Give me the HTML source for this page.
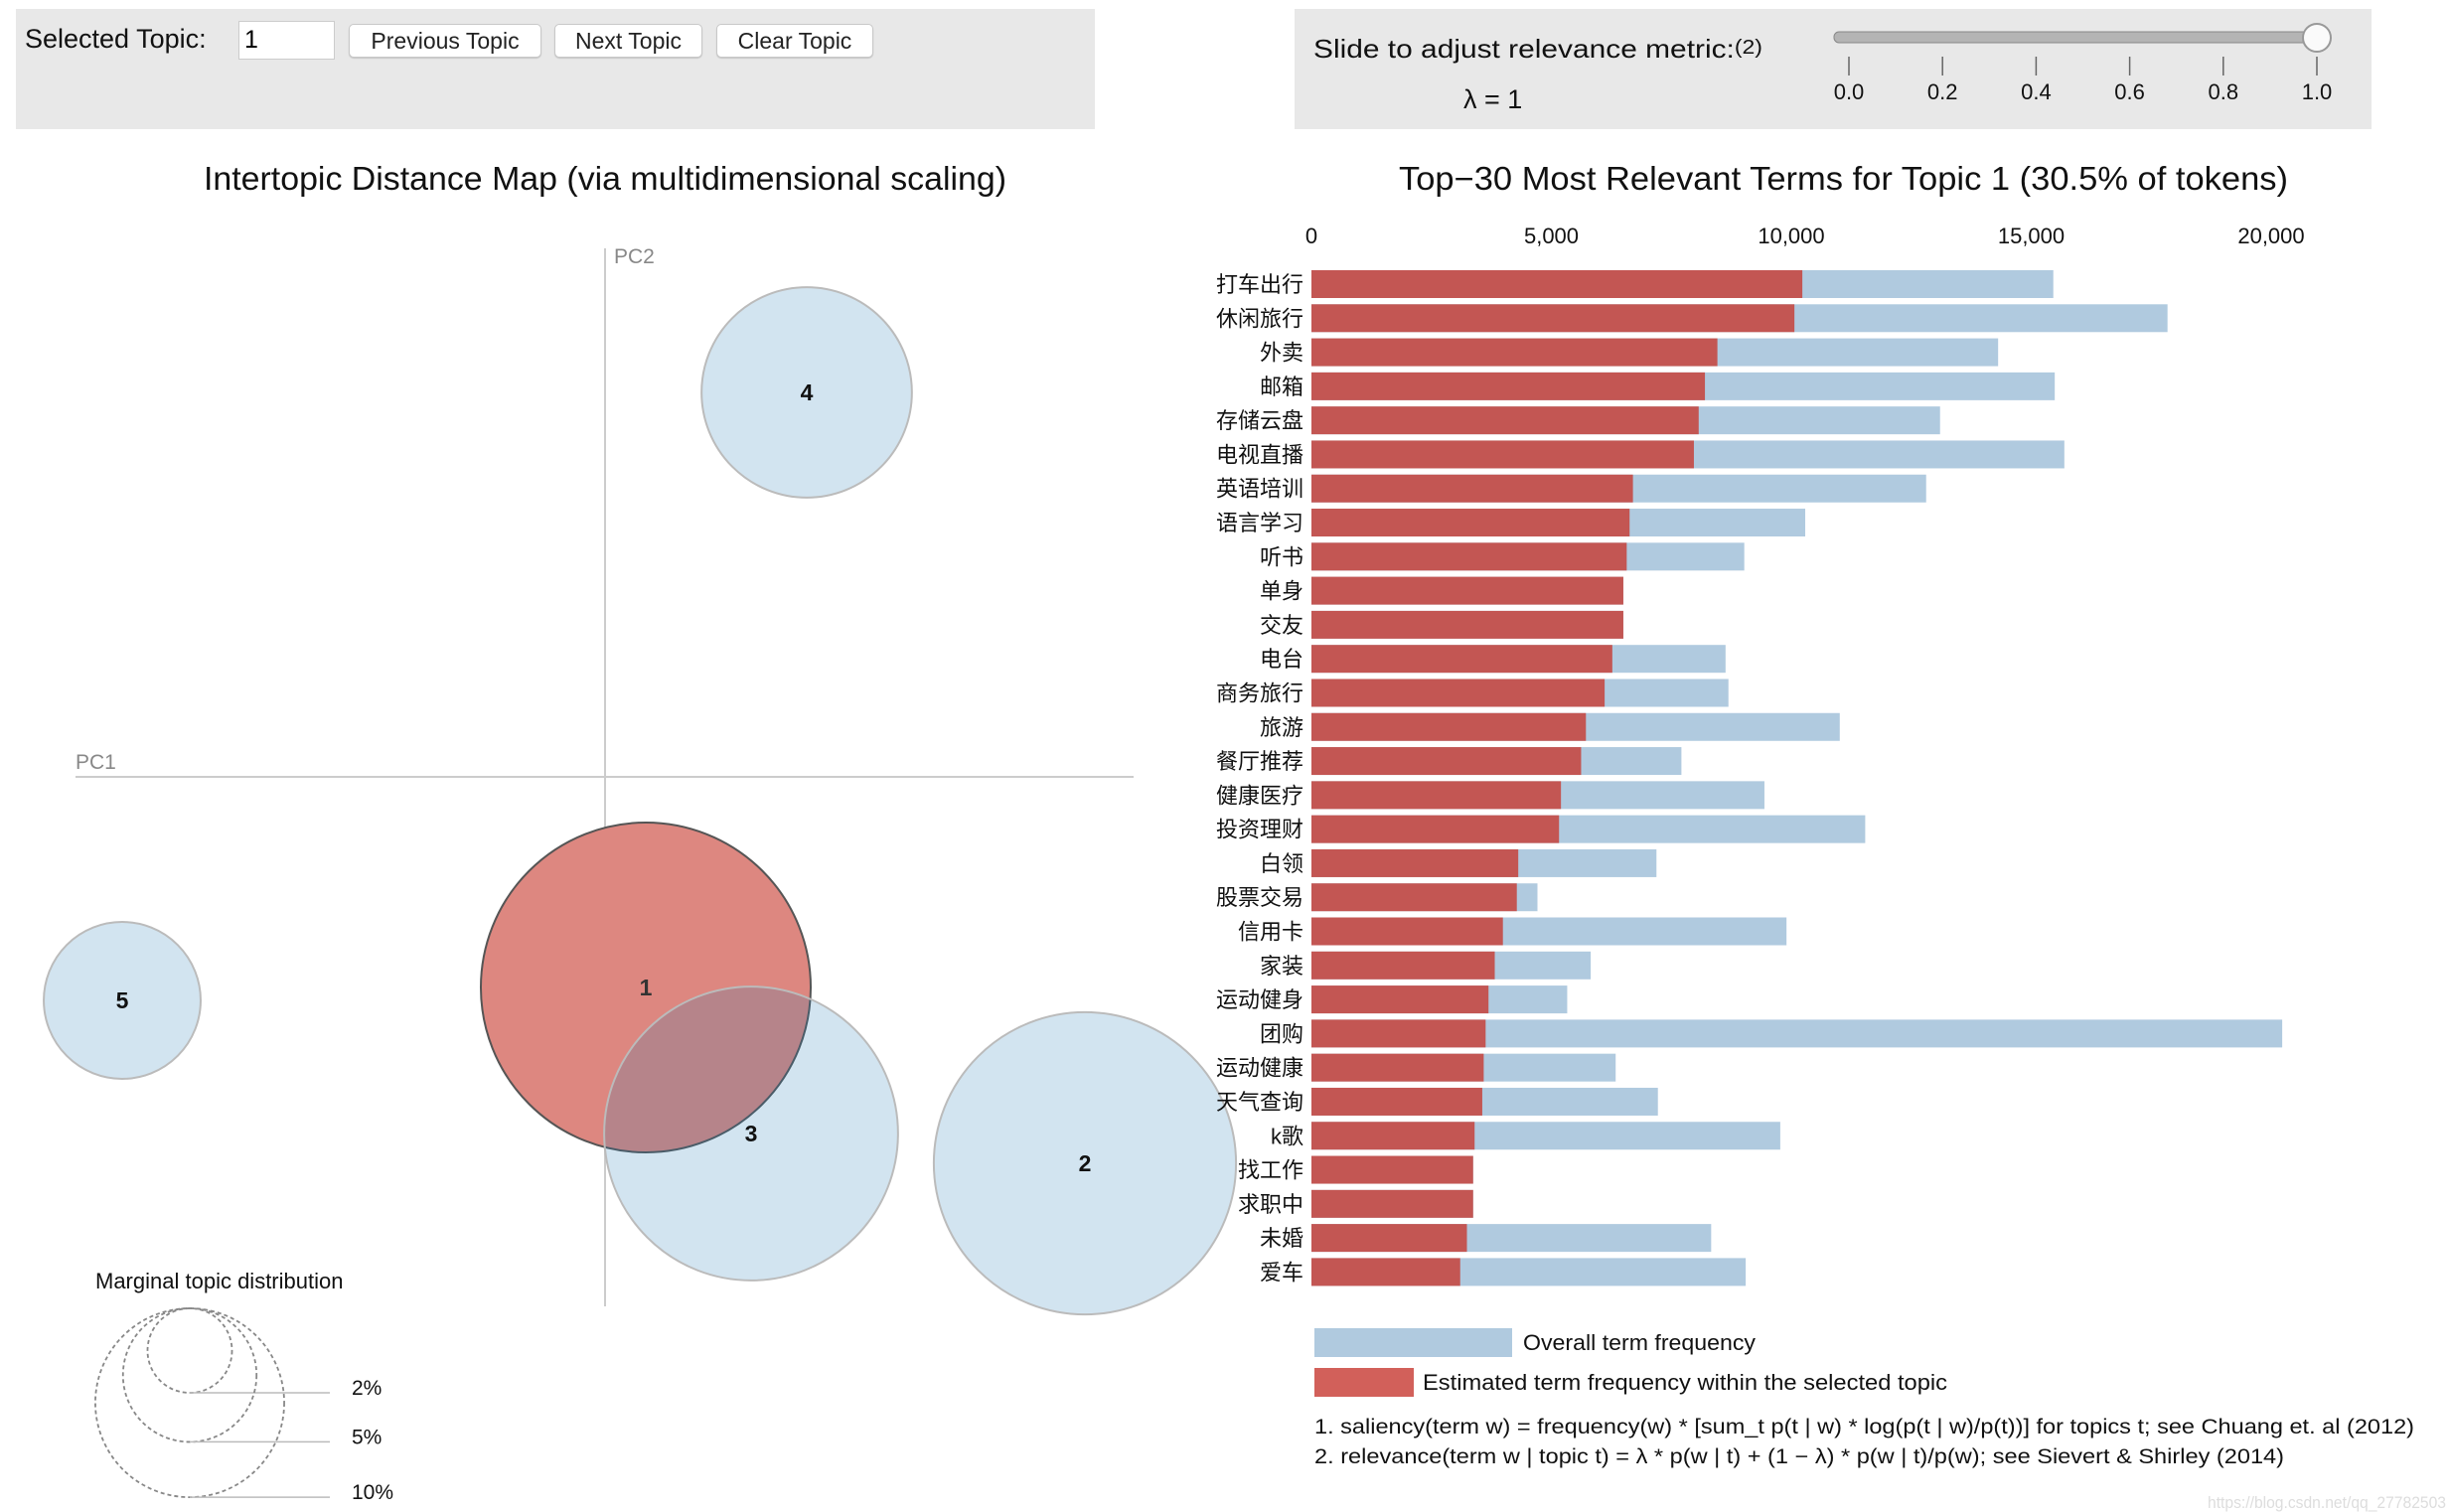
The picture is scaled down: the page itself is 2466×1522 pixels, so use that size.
<!DOCTYPE html>
<html><head><meta charset="utf-8">
<style>
html,body{margin:0;padding:0;background:#fff;}
body{width:2466px;height:1522px;position:relative;overflow:hidden;font-family:"Liberation Sans","Noto Sans CJK SC",sans-serif;}
.panel{position:absolute;background:#e8e8e8;}
.btn{position:absolute;top:24px;height:34px;background:#fff;border:1px solid #c8c8c8;border-radius:5px;font-size:23px;line-height:33px;text-align:center;color:#222;box-shadow:0 1px 1px rgba(0,0,0,.15);box-sizing:border-box;}
svg{position:absolute;left:0;top:0;}
</style></head>
<body>
<div class="panel" style="left:16px;top:9px;width:1086px;height:121px;"></div>
<div style="position:absolute;left:25px;top:24px;font-size:27px;color:#111;">Selected Topic:</div>
<div style="position:absolute;left:240px;top:21px;width:97px;height:39px;background:#fff;border:1px solid #ccc;box-sizing:border-box;font-size:25px;line-height:37px;padding-left:5px;">1</div>
<div class="btn" style="left:351px;width:194px;">Previous Topic</div>
<div class="btn" style="left:558px;width:149px;">Next Topic</div>
<div class="btn" style="left:721px;width:158px;">Clear Topic</div>
<div class="panel" style="left:1303px;top:9px;width:1084px;height:121px;"></div>

<svg id="chart" width="2466" height="1522" xmlns="http://www.w3.org/2000/svg" font-family="Liberation Sans, Noto Sans CJK SC, sans-serif">
  <text x="1322" y="58" font-size="26" fill="#111" textLength="452" lengthAdjust="spacingAndGlyphs">Slide to adjust relevance metric:<tspan font-size="20" dy="-4">(2)</tspan></text>
  <text x="1473" y="109" font-size="27" fill="#111">λ = 1</text>
  <g>
    <rect x="1846" y="32" width="494" height="11" rx="5" fill="#b4b4b4" stroke="#888" stroke-width="1"/>
    <g id="sliderTicks"></g>
    <circle cx="2332" cy="38" r="14" fill="#fafafa" stroke="#999" stroke-width="2"/>
  </g>

  <text x="205" y="191" font-size="33" fill="#111" textLength="808" lengthAdjust="spacingAndGlyphs">Intertopic Distance Map (via multidimensional scaling)</text>
  <text x="1408" y="191" font-size="33" fill="#111" textLength="895" lengthAdjust="spacingAndGlyphs">Top−30 Most Relevant Terms for Topic 1 (30.5% of tokens)</text>

  <line x1="609" y1="250" x2="609" y2="1315" stroke="#ccc" stroke-width="2"/>
  <line x1="76" y1="782" x2="1141" y2="782" stroke="#ccc" stroke-width="2"/>
  <text x="76" y="774" font-size="21" fill="#888">PC1</text>
  <text x="618" y="265" font-size="21" fill="#888">PC2</text>
  <g id="circles"></g>

  <text x="96" y="1297" font-size="22" fill="#111">Marginal topic distribution</text>
  <g id="marginal"></g>

  <g id="bars"></g>
  <g>
    <rect x="1323" y="1337" width="199" height="29" fill="#b0cadf"/>
    <text x="1533" y="1359" font-size="22" fill="#111" textLength="234" lengthAdjust="spacingAndGlyphs">Overall term frequency</text>
    <rect x="1323" y="1377" width="100" height="29" fill="#d2605a"/>
    <text x="1432" y="1399" font-size="22" fill="#111" textLength="528" lengthAdjust="spacingAndGlyphs">Estimated term frequency within the selected topic</text>
  </g>
  <text x="1323" y="1443" font-size="21" fill="#111" textLength="1107" lengthAdjust="spacingAndGlyphs">1. saliency(term w) = frequency(w) * [sum_t p(t | w) * log(p(t | w)/p(t))] for topics t; see Chuang et. al (2012)</text>
  <text x="1323" y="1473" font-size="21" fill="#111" textLength="976" lengthAdjust="spacingAndGlyphs">2. relevance(term w | topic t) = λ * p(w | t) + (1 − λ) * p(w | t)/p(w); see Sievert &amp; Shirley (2014)</text>
  <text x="2222" y="1518" font-size="17" fill="#ddd" textLength="240" lengthAdjust="spacingAndGlyphs">https://blog.csdn.net/qq_27782503</text>
</svg>

<script>
const terms = ["打车出行","休闲旅行","外卖","邮箱","存储云盘","电视直播","英语培训","语言学习","听书","单身","交友","电台","商务旅行","旅游","餐厅推荐","健康医疗","投资理财","白领","股票交易","信用卡","家装","运动健身","团购","运动健康","天气查询","k歌","找工作","求职中","未婚","爱车"];
const topicFreq = [10230,10065,8460,8200,8070,7970,6700,6630,6570,6500,6500,6270,6110,5720,5620,5200,5160,4310,4280,3990,3820,3690,3630,3590,3560,3400,3370,3370,3240,3100];
const overallFreq = [15460,17840,14310,15490,13100,15690,12810,10290,9020,6500,6500,8630,8690,11010,7710,9440,11540,7190,4710,9900,5820,5330,20230,6340,7220,9770,3370,3370,8330,9050];
const xTicks = [0,5000,10000,15000,20000];
const xTickLabels = ["0","5,000","10,000","15,000","20,000"];
const sliderTicks = [0.0,0.2,0.4,0.6,0.8,1.0];
const sliderTickLabels = ["0.0","0.2","0.4","0.6","0.8","1.0"];
const topicIds = [1,2,3,4,5];
const topicPC1 = [0.041,0.483,0.147,0.203,-0.486];
const topicPC2 = [-0.212,-0.389,-0.359,0.387,-0.225];
const topicPct = [30.5,25.6,24.2,12.4,6.9];
const marginalPct = [2,5,10];
const marginalLabels = ["2%","5%","10%"];

const NS="http://www.w3.org/2000/svg";
function mk(tag,attrs,parent){const e=document.createElementNS(NS,tag);for(const k in attrs)e.setAttribute(k,attrs[k]);parent.appendChild(e);return e;}

// bar chart scales
const x0=1320, xPer=0.0483;
const xScale=v=>x0+v*xPer;
const rowY=i=>286+i*34.29;
const barH=28;
const bars=document.getElementById('bars');
xTicks.forEach((t,i)=>{
  const tx=mk('text',{x:xScale(t),y:245,'font-size':22,fill:'#111','text-anchor':'middle'},bars);
  tx.textContent=xTickLabels[i];
  
  
});
terms.forEach((t,i)=>{
  const cy=rowY(i);
  const b=mk('rect',{x:x0,y:cy-barH/2,width:xScale(overallFreq[i])-x0,height:barH,fill:'#b0cadf'},bars);
  
  
  const r=mk('rect',{x:x0,y:cy-barH/2,width:xScale(topicFreq[i])-x0,height:barH,fill:'#c35653'},bars);
  
  
  const lb=mk('text',{x:1312,y:cy+8,'font-size':22,fill:'#111','text-anchor':'end'},bars);
  lb.textContent=t;
  
  
});

// slider ticks
const st=document.getElementById('sliderTicks');
const sx=v=>1861+v*471;
sliderTicks.forEach((v,i)=>{
  const l=mk('line',{x1:sx(v),y1:57,x2:sx(v),y2:76,stroke:'#666','stroke-width':1.5},st);
  
  
  const tx=mk('text',{x:sx(v),y:100,'font-size':22,fill:'#111','text-anchor':'middle'},st);
  tx.textContent=sliderTickLabels[i];
  
  
});

// topic circles
const cx=v=>609+v*1000, cyS=v=>782-v*1000, rS=p=>30.06*Math.sqrt(p);
const cg=document.getElementById('circles');
// selected topic (1) first, opaque red
const order=[0,1,2,3,4];
order.forEach(i=>{
  if(i!==0) return;
  const c=mk('circle',{cx:cx(topicPC1[i]),cy:cyS(topicPC2[i]),r:rS(topicPct[i]),fill:'#dd8780',stroke:'#555','stroke-width':2},cg);
  
  
});
order.forEach(i=>{
  if(i===0) return;
  const c=mk('circle',{cx:cx(topicPC1[i]),cy:cyS(topicPC2[i]),r:rS(topicPct[i]),fill:'rgba(31,119,180,0.2)',stroke:'#bbb','stroke-width':2},cg);
  
  
});
order.forEach(i=>{
  const t=mk('text',{x:cx(topicPC1[i]),y:cyS(topicPC2[i])+8,'font-size':23,'font-weight':'bold',fill:i===0?'#333':'#111','text-anchor':'middle'},cg);
  t.textContent=topicIds[i];
  
  
});

// marginal legend
const mg=document.getElementById('marginal');
const mTop=1317, mcx=191;
marginalPct.forEach((p,i)=>{
  const r=rS(p);
  const c=mk('circle',{cx:mcx,cy:mTop+r,r:r,fill:'none',stroke:'#888','stroke-width':1.8,'stroke-dasharray':'4,3'},mg);
  
  
  const l=mk('line',{x1:mcx,y1:mTop+2*r,x2:332,y2:mTop+2*r,stroke:'#bbb','stroke-width':1.5},mg);
  
  
  const t=mk('text',{x:354,y:mTop+2*r+2,'font-size':21,fill:'#111'},mg);
  t.textContent=marginalLabels[i];
  
  
});
</script>
</body></html>
